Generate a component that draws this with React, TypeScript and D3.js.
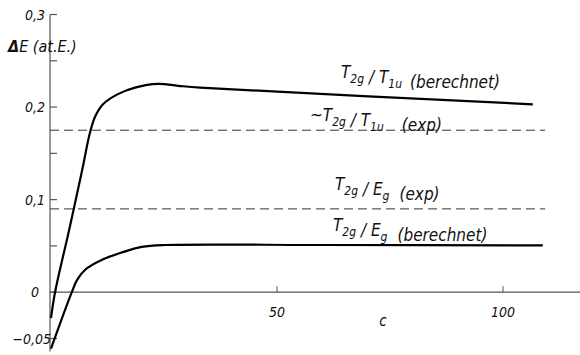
import React from "react";
import * as d3 from "d3";

const cT1uCalc = [0, 0.9, 4.0, 6.9, 8.6, 9.8, 11.5, 14.8, 18.6, 23.7, 28.1, 33, 106.6];
const eT1uCalc = [-0.028, 0, 0.067, 0.132, 0.172, 0.19, 0.203, 0.214, 0.221, 0.225, 0.223, 0.221, 0.203];

const cEgCalc = [0, 4.6, 5.75, 7.5, 11.3, 15.7, 20.1, 25.2, 60, 108.8];
const eEgCalc = [-0.061, 0, 0.013, 0.024, 0.035, 0.043, 0.049, 0.051, 0.051, 0.0505];

const expLevels = [0.175, 0.09];
const expRange = [0, 109.3];

const yTicks = [-0.05, 0, 0.05, 0.1, 0.15, 0.2, 0.25, 0.3];
const yTickLabels: Record<string, string> = { "-0.05": "\u22120,05", "0": "0", "0.1": "0,1", "0.2": "0,2", "0.3": "0,3" };
const xTicks = [50, 100];
const xTickLabels = ["50", "100"];

const FONT = "'DejaVu Sans Condensed', 'Liberation Sans Narrow', 'DejaVu Sans', sans-serif";

export default function App() {
  const W = 580, H = 355;
  const x = d3.scaleLinear().domain([0, 100]).range([51, 503]);
  const y = d3.scaleLinear().domain([-0.05, 0.3]).range([338.5, 14.5]);

  const line = d3
    .line<[number, number]>()
    .x((d) => x(d[0]))
    .y((d) => y(d[1]))
    .curve(d3.curveCatmullRom.alpha(0.5));

  const p1 = line(cT1uCalc.map((c, i) => [c, eT1uCalc[i]] as [number, number])) || "";
  const p2 = line(cEgCalc.map((c, i) => [c, eEgCalc[i]] as [number, number])) || "";

  const axisColor = "#555";
  const x0 = x(0) - 1;

  const label = (
    xPos: number,
    yPos: number,
    parts: { main: string; sub?: string }[],
    tail: string,
    tailGap: number
  ) => (
    <text x={xPos} y={yPos} fontFamily={FONT} fontStyle="italic" fontSize={17} fill="#111">
      {parts.map((p, i) => (
        <React.Fragment key={i}>
          <tspan>{p.main}</tspan>
          {p.sub ? (
            <>
              <tspan dy={5} fontSize={12}>{p.sub}</tspan>
              <tspan dy={-5}>{""}</tspan>
            </>
          ) : null}
        </React.Fragment>
      ))}
      <tspan dx={tailGap}>{tail}</tspan>
    </text>
  );

  return (
    <svg width={W} height={H} style={{ position: "absolute", left: 0, top: 0, background: "#fff" }}>
      {/* y axis */}
      <line x1={x0} x2={x0} y1={y(0.3)} y2={y(-0.064)} stroke={axisColor} strokeWidth={1.2} />
      {yTicks.map((t) => (
        <line key={t} x1={x0} x2={x0 + 7} y1={y(t)} y2={y(t)} stroke={axisColor} strokeWidth={1.2} />
      ))}
      {yTicks
        .filter((t) => yTickLabels[String(t)] !== undefined)
        .map((t) => (
          <text
            key={"l" + t}
            x={t === -0.05 ? x0 + 1 : t === 0 ? x0 - 11 : x0 - 5}
            y={y(t) + 5}
            textAnchor="end"
            fontFamily={FONT}
            fontStyle="italic"
            fontSize={14}
            fill="#111"
          >
            {yTickLabels[String(t)]}
          </text>
        ))}
      <text x={8} y={52} fontFamily={FONT} fontStyle="italic" fontSize={16} fill="#111">
        <tspan fontWeight="bold">Δ</tspan>E (at.E.)
      </text>

      {/* x axis (zero line) */}
      <line x1={x0} x2={W} y1={y(0)} y2={y(0)} stroke={axisColor} strokeWidth={1.2} />
      {xTicks.map((t, i) => (
        <g key={t}>
          <line x1={x(t)} x2={x(t)} y1={y(0)} y2={y(0) - 6} stroke={axisColor} strokeWidth={1} />
          <text x={x(t)} y={y(0) + 25} textAnchor="middle" fontFamily={FONT} fontStyle="italic" fontSize={14} fill="#111">
            {xTickLabels[i]}
          </text>
        </g>
      ))}
      <text x={383} y={y(0) + 34} textAnchor="middle" fontFamily={FONT} fontStyle="italic" fontSize={15} fill="#111">
        c
      </text>

      {/* experimental levels */}
      {expLevels.map((v) => (
        <line
          key={v}
          x1={x(expRange[0]) - 1}
          x2={x(expRange[1])}
          y1={y(v)}
          y2={y(v)}
          stroke="#333"
          strokeWidth={1}
          strokeDasharray="9 5"
        />
      ))}

      {/* calculated curves */}
      <path d={p1} fill="none" stroke="#000" strokeWidth={2.2} />
      <path d={p2} fill="none" stroke="#000" strokeWidth={2.2} />

      {label(341, 78, [{ main: "T", sub: "2g" }, { main: " / T", sub: "1u" }], "(berechnet)", 8)}
      {label(310, 121, [{ main: "~T", sub: "2g" }, { main: " / T", sub: "1u" }], "(exp)", 18)}
      {label(335, 190, [{ main: "T", sub: "2g" }, { main: " / E", sub: "g" }], "(exp)", 10)}
      {label(333, 231, [{ main: "T", sub: "2g" }, { main: " / E", sub: "g" }], "(berechnet)", 10)}
    </svg>
  );
}
